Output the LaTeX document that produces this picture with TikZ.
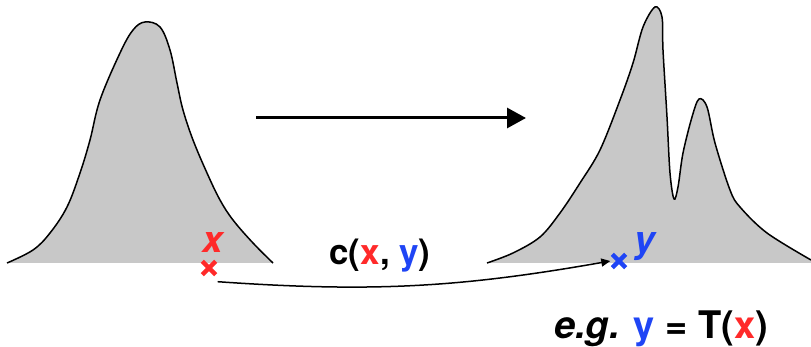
\documentclass[tikz,border=0pt]{standalone}
\usepackage{fontspec}
\setmainfont{TeX Gyre Heros}
\usetikzlibrary{arrows.meta}
\definecolor{ink}{HTML}{000000}
\definecolor{xred}{HTML}{FF2A2A}
\definecolor{yblue}{HTML}{1F45F5}
\definecolor{mass}{HTML}{C8C8C8}

\begin{document}
\begin{tikzpicture}[x=1pt,y=-1pt,text=ink,
  mark spot/.style={minimum size=13pt,inner sep=0pt},
  cross stroke/.style={line width=4.4pt},
  point label/.style={font=\fontsize{37}{40}\selectfont\bfseries\itshape,anchor=base}]
  \useasboundingbox (0,0) rectangle (811,347);
  % source density
  \fill[mass] plot[smooth,tension=0.6] coordinates {(7,263) (33,250) (50,233) (67,207)
    (80,173) (90,140) (100,100) (120,53) (133,30) (145,22) (160,27) (170,50) (177,83)
    (183,110) (193,140) (207,173) (220,200) (233,220) (253,243) (273,263)} -- cycle;
  \draw[line width=1.5pt] plot[smooth,tension=0.6] coordinates {(7,263) (33,250) (50,233)
    (67,207) (80,173) (90,140) (100,100) (120,53) (133,30) (145,22) (160,27) (170,50)
    (177,83) (183,110) (193,140) (207,173) (220,200) (233,220) (253,243) (273,263)};
  % target density
  \fill[mass] plot[smooth,tension=0.55] coordinates {(487,263) (513,253) (540,237)
    (560,213) (580,183) (600,150) (620,100) (633,63) (643,27) (655,7) (662,17) (663,50)
    (667,117) (670,173) (674,199) (678,187) (683,153) (692,117) (699,99) (707,107)
    (715,143) (730,190) (740,207) (767,233) (811,260)} -- (811,263) -- cycle;
  \draw[line width=1.5pt] plot[smooth,tension=0.55] coordinates {(487,263) (513,253)
    (540,237) (560,213) (580,183) (600,150) (620,100) (633,63) (643,27) (655,7) (662,17)
    (663,50) (667,117) (670,173) (674,199) (678,187) (683,153) (692,117) (699,99)
    (707,107) (715,143) (730,190) (740,207) (767,233) (811,260)};
  % push-forward arrow
  \coordinate (mapfrom) at (256,118);
  \coordinate (mapto) at (526,118);
  \draw[line width=3pt,-{Triangle[length=19pt,width=20pt]}] (mapfrom) -- (mapto);
  % sample points
  \node[mark spot] (xpt) at (209,268) {};
  \node[mark spot] (ypt) at (619,261) {};
  \draw[cross stroke,xred] (xpt.north west) -- (xpt.south east)
    (xpt.north east) -- (xpt.south west);
  \draw[cross stroke,yblue] (ypt.north west) -- (ypt.south east)
    (ypt.north east) -- (ypt.south west);
  \node[point label,xred] (xlab) at (213,253) {x};
  \node[point label,yblue] (ylab) at (645,253) {y};
  \draw[line width=1.5pt,-{Triangle[length=9pt,width=8pt]}]
    ([xshift=2pt,yshift=-7pt]xpt.south east) to[out=-4,in=190] ([xshift=-2pt]ypt.west);
  % labels
  \node[font=\fontsize{35}{40}\selectfont\bfseries,anchor=base] (cost) at (380,265)
    {c(\textcolor{xred}{x}, \textcolor{yblue}{y})};
  \node[font=\fontsize{38}{44}\selectfont\bfseries,anchor=base] (map) at (661,338)
    {\textit{e.g.} \textcolor{yblue}{y} = T(\textcolor{xred}{x})};
\end{tikzpicture}
\end{document}
